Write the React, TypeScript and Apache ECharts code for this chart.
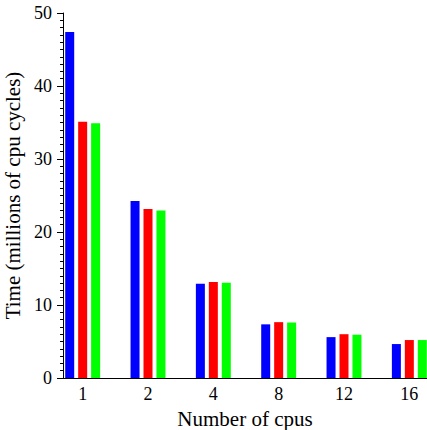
import React, { useEffect, useRef } from "react";
import * as echarts from "echarts";

const categories = ["1", "2", "4", "8", "12", "16"];
const seriesBlue = [47.4, 24.25, 12.9, 7.35, 5.6, 4.65];
const seriesRed = [35.1, 23.15, 13.15, 7.65, 6.0, 5.2];
const seriesGreen = [34.9, 22.95, 13.05, 7.6, 5.93, 5.2];
const yTicks = { min: 0, max: 50, interval: 10 };

const FONT = '"Liberation Serif", "Times New Roman", serif';

export default function App() {
  const ref = useRef<HTMLDivElement>(null);
  useEffect(() => {
    if (!ref.current) return;
    const chart = echarts.init(ref.current, undefined, { renderer: "svg" });
    const barStyle = (color: string) => ({
      type: "bar" as const,
      xAxisIndex: 0,
      yAxisIndex: 0,
      barWidth: 9,
      barGap: "44%",
      itemStyle: { color },
    });
    chart.setOption({
      animation: false,
      textStyle: { fontFamily: FONT },
      grid: [
        { left: 50, top: 13, width: 392, bottom: 52, outerBoundsMode: "none", containLabel: false },
        { left: 63, top: 13, right: 0, bottom: 52, outerBoundsMode: "none", containLabel: false },
      ],
      xAxis: [
        {
          type: "category",
          gridIndex: 0,
          data: categories,
          axisLine: { show: false },
          axisTick: { show: false },
          axisLabel: { fontFamily: FONT, fontSize: 18, color: "#000", margin: 7 },
        },
        {
          type: "value",
          gridIndex: 1,
          min: 0,
          max: 1,
          axisLine: { show: true, lineStyle: { color: "#000", width: 1 } },
          axisTick: { show: false },
          axisLabel: { show: false },
          splitLine: { show: false },
          name: "Number of cpus",
          nameLocation: "middle",
          nameGap: 30,
          nameTextStyle: { fontFamily: FONT, fontSize: 21, color: "#000" },
        },
      ],
      yAxis: [
        {
          type: "value",
          gridIndex: 0,
          min: yTicks.min,
          max: yTicks.max,
          interval: yTicks.interval,
          show: false,
          splitLine: { show: false },
        },
        {
          type: "value",
          gridIndex: 1,
          min: yTicks.min,
          max: yTicks.max,
          interval: yTicks.interval,
          axisLine: { show: true, lineStyle: { color: "#000", width: 1 } },
          axisTick: { show: true, length: 6, lineStyle: { color: "#000" } },
          minorTick: { show: true, splitNumber: 10, length: 3, lineStyle: { color: "#000" } },
          splitLine: { show: false },
          axisLabel: { fontFamily: FONT, fontSize: 18, color: "#000", margin: 11 },
          name: "Time (millions of cpu cycles)",
          nameLocation: "middle",
          nameGap: 36,
          nameTextStyle: { fontFamily: FONT, fontSize: 21, color: "#000" },
        },
      ],
      series: [
        { ...barStyle("#0000ff"), data: seriesBlue },
        { ...barStyle("#ff0000"), data: seriesRed },
        { ...barStyle("#00ff00"), data: seriesGreen },
      ],
    });
    return () => chart.dispose();
  }, []);
  return (
    <div
      ref={ref}
      style={{ position: "fixed", left: 0, top: 0, width: 427, height: 430, background: "#fff" }}
    />
  );
}
